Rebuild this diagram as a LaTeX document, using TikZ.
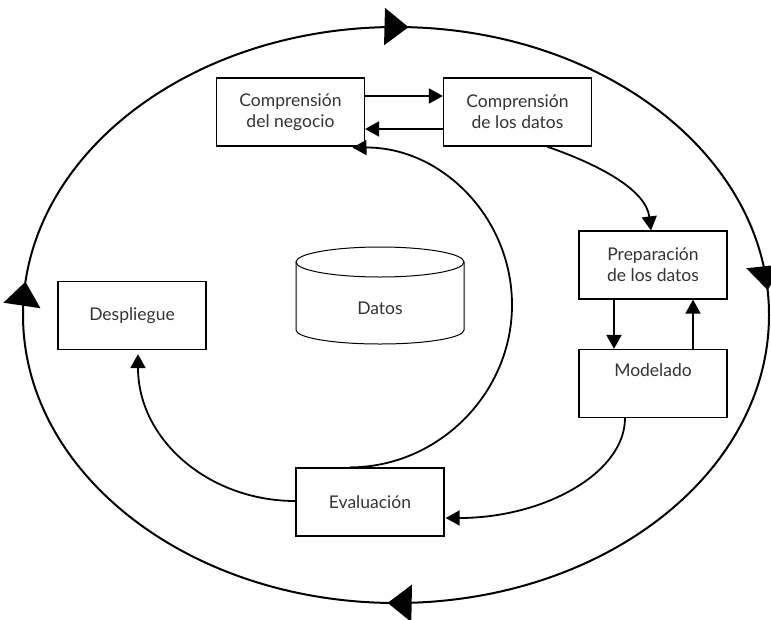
\documentclass[tikz,border=0pt]{standalone}
\usepackage{fontspec}
\setmainfont{Lato}
\usetikzlibrary{arrows.meta,decorations.markings,calc}
\begin{document}
\begin{tikzpicture}[x=1pt,y=-1pt,
  txtfont/.style={font=\fontsize{17.5}{21}\selectfont, text=black!80},
  box/.style={draw=black, line width=1.2pt, minimum width=148pt, minimum height=68pt,
    inner sep=0pt, align=center, txtfont},
  lbl/.style={inner sep=0pt, txtfont},
  flow/.style={line width=1.8pt, -{Triangle[length=14pt,width=15pt]}},
  cyctip/.tip={Triangle[length=24pt,width=37pt]}]
\useasboundingbox (0,0) rectangle (771,619);

% outer cycle
\draw[line width=2pt, postaction={decorate}, decoration={markings,
    mark=at position 0.006 with {\arrow{cyctip}},
    mark=at position 0.238 with {\arrow{cyctip}},
    mark=at position 0.504 with {\arrow{cyctip}},
    mark=at position 0.766 with {\arrow{cyctip}}}]
  (396,27) .. controls (602,27) and (769,156) .. (769,315)
           .. controls (769,474) and (602,603) .. (396,603)
           .. controls (190,603) and (23,474) .. (23,315)
           .. controls (23,156) and (190,27) .. (396,27) -- cycle;

% phases
\node[box] (bu) at (290.5,112) {Comprensión\\del negocio};
\node[box] (du) at (517.5,112) {Comprensión\\de los datos};
\node[box] (dp) at (653,265) {Preparación\\de los datos};
\node[box] (mo) at (653,383.5) {};
\node[lbl] at (653,370) {Modelado};
\node[box] (de) at (132,315.5) {Despliegue};
\node[box] (ev) at (370,502) {Evaluación};

% data store
\draw[line width=1pt] (296,262) -- (296,330)
  arc[start angle=180, end angle=360, x radius=84pt, y radius=14pt] -- (464,262);
\draw[line width=1pt] (380,262) ellipse [x radius=84pt, y radius=15pt];
\node[lbl] (datos) at (380,308) {Datos};

% transitions
\draw[flow] ($(bu.east)+(0,-16)$) -- ($(du.west)+(0,-16)$);
\draw[flow] ($(du.west)+(0,17)$) -- ($(bu.east)+(0,17)$);
\draw[flow] ($(du.south)+(29.5,0)$) .. controls (600,165) and (646,190) .. ($(dp.north)+(-2,0)$);
\draw[flow] ($(dp.south)+(-39,0)$) -- ($(mo.north)+(-39,0)$);
\draw[flow] ($(mo.north)+(40,0)$) -- ($(dp.south)+(40,0)$);
\draw[flow] ($(mo.south)+(-28,0)$) .. controls (625,473) and (544,518) .. ($(ev.east)+(1,16)$);
\draw[flow] ($(ev.north)+(-20,0)$) .. controls (439,467) and (512,393) .. (512,305)
  .. controls (512,217) and (441,147) .. ($(bu.south)+(62,1)$);
\draw[flow] ($(ev.west)+(0,-1)$) .. controls (209,501) and (138,440) .. ($(de.south)+(6,4)$);
\end{tikzpicture}
\end{document}
